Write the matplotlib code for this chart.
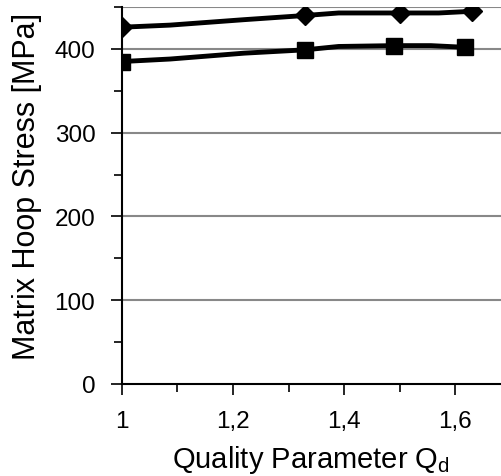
import matplotlib
matplotlib.use("Agg")
import matplotlib.pyplot as plt
from matplotlib.ticker import MultipleLocator, FuncFormatter

plt.rcParams['font.family'] = ['Liberation Sans', 'DejaVu Sans']

# Upper series (diamonds): full curve, markers at measured points
x_dia = [1.0, 1.087, 1.22, 1.33, 1.39, 1.50, 1.57, 1.63]
y_dia = [426, 428.5, 435, 440, 443, 443, 443, 445]
mark_dia = [0, 3, 5, 7]

# Lower series (squares)
x_sq = [1.0, 1.087, 1.22, 1.33, 1.39, 1.49, 1.556, 1.617]
y_sq = [385, 388, 395, 399, 403, 404, 404, 402]
mark_sq = [0, 3, 5, 7]

x_ticks = [1.0, 1.2, 1.4, 1.6]
y_ticks = [0, 100, 200, 300, 400]

fig = plt.figure(figsize=(5.01, 4.77), dpi=100)
ax = fig.add_axes([0.243, 0.193, 0.757, 0.790])

ax.plot(x_dia, y_dia, color='black', lw=3.5, marker='D', markersize=10,
        markevery=mark_dia, solid_capstyle='round', zorder=3)
ax.plot(x_sq, y_sq, color='black', lw=3.5, marker='s', markersize=11,
        markevery=mark_sq, solid_capstyle='round', zorder=3)

ax.set_xlim(1.0, 1.682)
ax.set_ylim(0, 450)
ax.set_xticks(x_ticks)
ax.set_yticks(y_ticks)
ax.xaxis.set_minor_locator(MultipleLocator(0.1))
ax.yaxis.set_minor_locator(MultipleLocator(50))
ax.xaxis.set_major_formatter(FuncFormatter(lambda v, p: f"{v:g}".replace('.', ',')))

for y in y_ticks[1:] + [450]:
    ax.axhline(y, color='#888888', lw=1.5, zorder=1)

for s in ['top', 'right']:
    ax.spines[s].set_visible(False)
for s in ['left', 'bottom']:
    ax.spines[s].set_linewidth(1.5)
    ax.spines[s].set_zorder(4)

ax.tick_params(axis='both', which='major', length=8, width=1.2, labelsize=17.5, direction='out')
ax.tick_params(axis='x', which='major', pad=11)
ax.tick_params(axis='y', which='major', pad=11)
ax.tick_params(axis='both', which='minor', length=6, width=1.2, direction='out')

ax.set_xlabel('Quality Parameter Q$_\\mathregular{d}$', fontsize=21, labelpad=8)
ax.set_ylabel('Matrix Hoop Stress [MPa]', fontsize=22, labelpad=9)
ax.yaxis.set_label_coords(-0.21, 0.527)

fig.savefig('out.png', dpi=100)
